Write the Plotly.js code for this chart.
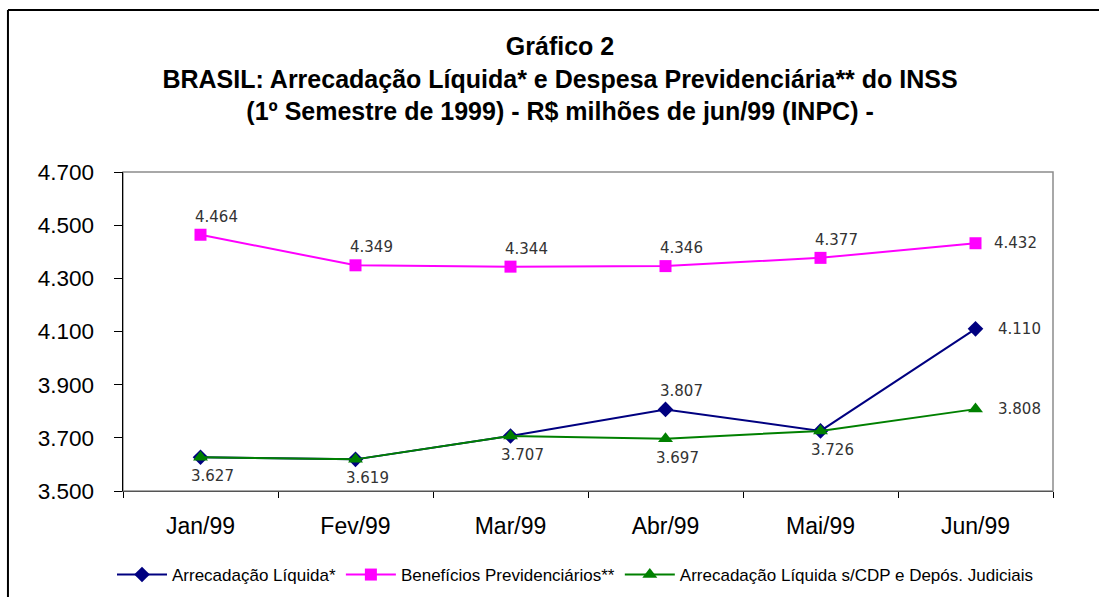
<!DOCTYPE html>
<html>
<head>
<meta charset="utf-8">
<script src="https://cdn.plot.ly/plotly-3.0.1.min.js"></script>
<style>html,body{margin:0;padding:0;background:#fff;}#chart{width:1099px;height:597px;}</style>
</head>
<body>
<div id="chart"></div>
<script>
const months = ["Jan/99", "Fev/99", "Mar/99", "Abr/99", "Mai/99", "Jun/99"];
const arrecadacao = [3627, 3619, 3707, 3807, 3726, 4110];
const beneficios = [4464, 4349, 4344, 4346, 4377, 4432];
const arrecadacaoSemCDP = [3627, 3619, 3707, 3697, 3726, 3808];
const yTicks = [3500, 3700, 3900, 4100, 4300, 4500, 4700];

const names = ["Arrecadação Líquida*", "Benefícios Previdenciários**", "Arrecadação Líquida s/CDP e Depós. Judiciais"];

// data-label placement per point: "" = no label
const labelArr = ["", "", "", "above", "", "right"];
const labelBen = ["above", "above", "above", "above", "above", "right"];
const labelCdp = ["below", "below", "below", "below", "below", "right"];

function fmt(v) {
  return String(v).replace(/\B(?=(\d{3})+(?!\d))/g, ".");
}

const labelFont = {family: "DejaVu Sans", size: 15, color: "#333333"};
const placement = {
  above: {xanchor: "center", yanchor: "middle", xshift: 16, yshift: 18},
  below: {xanchor: "center", yanchor: "middle", xshift: 12, yshift: -19},
  right: {xanchor: "left", yanchor: "middle", xshift: 21, yshift: 0}
};

function labels(values, where, rightShift) {
  const out = [];
  values.forEach((v, i) => {
    const w = where[i];
    if (!w) return;
    const p = Object.assign({}, placement[w]);
    if (w === "right") p.xshift = rightShift;
    out.push(Object.assign({
      x: months[i], y: v, xref: "x", yref: "y", text: fmt(v),
      showarrow: false, font: labelFont
    }, p));
  });
  return out;
}

const traces = [
  {
    x: months, y: arrecadacao, name: names[0], type: "scatter", mode: "lines+markers",
    line: {color: "#000080", width: 2},
    marker: {symbol: "diamond", size: 12, color: "#000080"}
  },
  {
    x: months, y: beneficios, name: names[1], type: "scatter", mode: "lines+markers",
    line: {color: "#FF00FF", width: 2},
    marker: {symbol: "square", size: 12, color: "#FF00FF"}
  },
  {
    x: months, y: arrecadacaoSemCDP, name: names[2], type: "scatter", mode: "lines+markers",
    line: {color: "#008000", width: 2},
    marker: {symbol: "triangle-up", size: 13, color: "#008000"}
  }
];

const annotations = [].concat(
  labels(arrecadacao, labelArr, 20),
  labels(beneficios, labelBen, 16),
  labels(arrecadacaoSemCDP, labelCdp, 20)
);

const layout = {
  width: 1099, height: 597,
  separators: ",.",
  paper_bgcolor: "#ffffff", plot_bgcolor: "#ffffff",
  margin: {l: 123, r: 46, t: 172, b: 106, pad: 0},
  title: {
    text: "<b>Gráfico 2</b><br><b>BRASIL: Arrecadação Líquida* e Despesa Previdenciária** do INSS</b><br><b>(1º Semestre de 1999) - R$ milhões de jun/99 (INPC) -</b>",
    font: {family: "Liberation Sans", size: 25, color: "#000000"},
    x: 0.5096, xref: "container", xanchor: "center",
    y: 1 - 55 / 597, yref: "container", yanchor: "top"
  },
  xaxis: {
    type: "category", categoryorder: "array", categoryarray: months,
    range: [-0.5, 5.5], autorange: false, automargin: false,
    showgrid: false, zeroline: false,
    showline: true, linecolor: "#555555", linewidth: 1,
    ticks: "outside", tickson: "boundaries", ticklen: 6, tickcolor: "#000000",
    ticklabelstandoff: 14,
    tickfont: {family: "Liberation Sans", size: 23, color: "#000000"},
    fixedrange: true
  },
  yaxis: {
    range: [3500, 4700], autorange: false, automargin: false, tickvals: yTicks, tickformat: ",.0f",
    showgrid: false, zeroline: false,
    showline: true, linecolor: "#000000", linewidth: 1.5,
    ticks: "outside", ticklen: 8, tickcolor: "#000000",
    ticklabelstandoff: 15,
    tickfont: {family: "Liberation Sans", size: 22.5, color: "#000000"},
    fixedrange: true
  },
  showlegend: true,
  legend: {
    orientation: "h", xref: "container", x: 575 / 1099, xanchor: "center",
    yref: "container", y: 1 - 575 / 597, yanchor: "middle",
    font: {family: "Liberation Sans", size: 17, color: "#000000"},
    itemwidth: 50, tracegroupgap: 0, bgcolor: "rgba(0,0,0,0)"
  },
  annotations: annotations,
  shapes: [
    {type: "rect", xref: "paper", yref: "paper", x0: 0, x1: 1, y0: 0, y1: 1,
     line: {color: "#8c8c8c", width: 1.5}, layer: "below"},
    {type: "line", xref: "paper", yref: "paper", x0: -0.1237, x1: -0.1237, y0: -0.4, y1: 1.508,
     line: {color: "#000000", width: 2}, layer: "above"},
    {type: "line", xref: "paper", yref: "paper", x0: -0.1237, x1: 1.2, y0: 1.508, y1: 1.508,
     line: {color: "#000000", width: 2}, layer: "above"}
  ]
};

Plotly.newPlot("chart", traces, layout, {displayModeBar: false, staticPlot: true});
</script>
</body>
</html>
